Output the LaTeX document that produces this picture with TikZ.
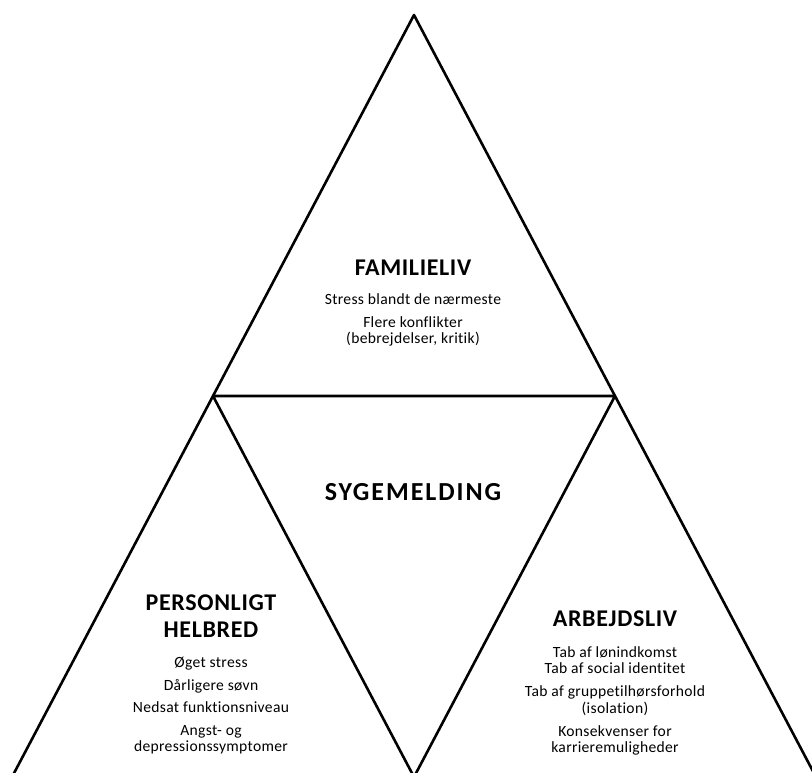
\documentclass[tikz,border=0pt]{standalone}
\usepackage{fontspec}
\setmainfont{Carlito}[Ligatures=NoCommon]
\usetikzlibrary{positioning,calc}

\begin{document}
\begin{tikzpicture}
[x=1pt,y=-1pt,
myedge/.style={line width=2.6pt,line join=round},
heading/.style={font=\bfseries\fontsize{24}{27}\selectfont\addfontfeatures{LetterSpace=2.7},align=center,inner sep=0pt},
items/.style={font=\fontsize{15.6}{16.5}\selectfont\addfontfeatures{LetterSpace=2},align=center,inner sep=0pt}]
%%
\useasboundingbox (0,0) rectangle (812,773);
\coordinate (top) at (414,15);
\coordinate (ml) at (213,396);
\coordinate (mr) at (615,396);
\coordinate (bl) at (12,777);
\coordinate (bm) at (414,777);
\coordinate (br) at (816,777);
\draw[myedge] (top) -- (bl) -- (br) -- cycle;
\draw[myedge] (ml) -- (mr) -- (bm) -- cycle;
%%
\node (fam) [heading] at (413,268) {FAMILIELIV};
\node (famtxt) [items] at (413,320) {Stress blandt de nærmeste\\[6.5pt]
  Flere konflikter\\(bebrejdelser, kritik)};
\node (syg) [heading,font=\bfseries\fontsize{26}{27}\selectfont\addfontfeatures{LetterSpace=7.5}] at (413,492) {SYGEMELDING};
\node (pers) [heading] at (211,616) {PERSONLIGT\\HELBRED};
\node (perstxt) [items] at (211,706) {Øget stress\\[6pt]
  Dårligere søvn\\[6pt]
  Nedsat funktionsniveau\\[6pt]
  Angst- og\\depressionssymptomer};
\node (arb) [heading] at (615,619) {ARBEJDSLIV};
\node (arbtxt) [items] at (615,701) {Tab af lønindkomst\\Tab af social identitet\\[6.5pt]
  Tab af gruppetilhørsforhold\\(isolation)\\[6.5pt]
  Konsekvenser for\\karrieremuligheder};
%%
\end{tikzpicture}
\end{document}
